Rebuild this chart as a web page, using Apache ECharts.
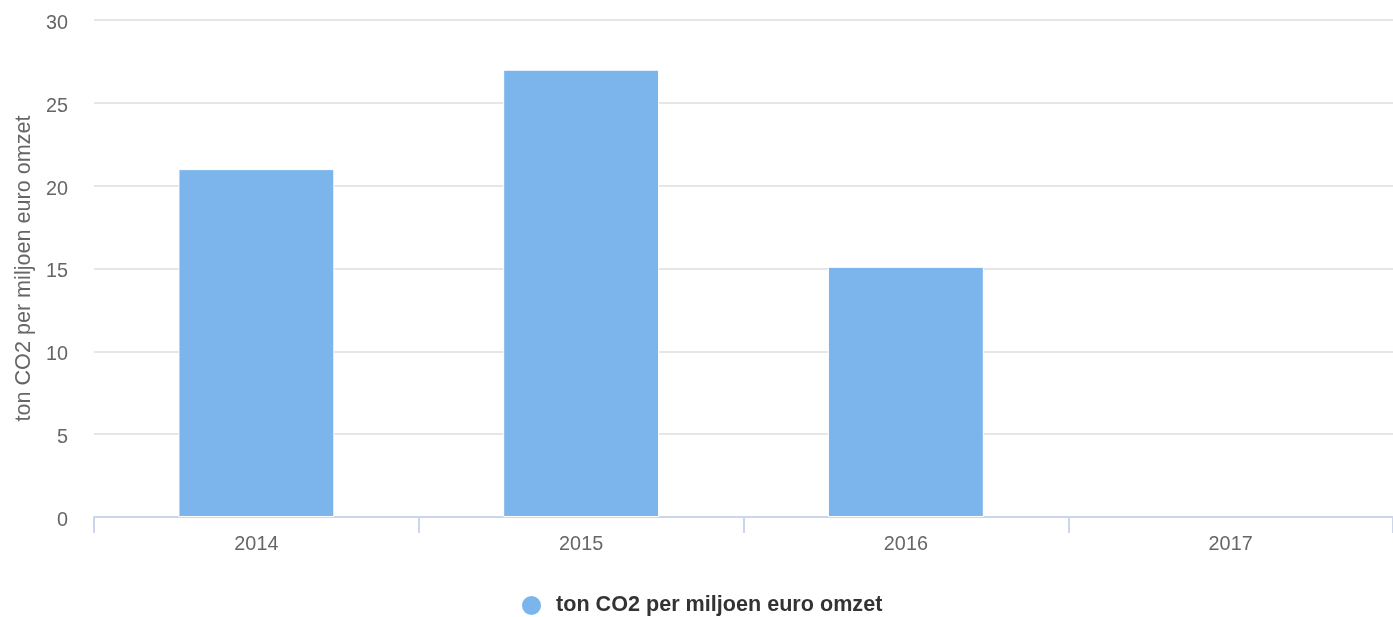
<!DOCTYPE html>
<html>
<head>
<meta charset="utf-8">
<script src="https://cdn.jsdelivr.net/npm/echarts@6/dist/echarts.min.js"></script>
<style>
html,body{margin:0;padding:0;background:#fff;}
#chart{width:1393px;height:617px;}
</style>
</head>
<body>
<div id="chart"></div>
<script>
var categories = ['2014', '2015', '2016', '2017'];
var values = [21.0, 27.0, 15.1, null];
var seriesName = 'ton CO2 per miljoen euro omzet';
var yAxisTitle = 'ton CO2 per miljoen euro omzet';
var yTicks = { min: 0, max: 30, interval: 5 };

var FONT = "'Liberation Sans', Arial, Helvetica, sans-serif";
var chart = echarts.init(document.getElementById('chart'), null, { renderer: 'canvas' });
chart.setOption({
  animation: false,
  backgroundColor: '#ffffff',
  textStyle: { fontFamily: FONT },
  grid: { left: 94, right: 0, top: 20, bottom: 100, containLabel: false },
  legend: {
    data: [{ name: seriesName, icon: 'circle' }],
    left: 520,
    top: 594,
    padding: 0,
    itemWidth: 21,
    itemHeight: 21,
    textStyle: { color: '#333333', fontSize: 21.6, fontWeight: 'bold', fontFamily: FONT, padding: [0, 0, 0, 9] }
  },
  xAxis: {
    type: 'category',
    data: categories,
    boundaryGap: true,
    axisLine: { show: true, lineStyle: { color: '#ccd6eb', width: 2 } },
    axisTick: { show: true, alignWithLabel: false, length: 16, lineStyle: { color: '#ccd6eb', width: 2 } },
    axisLabel: { color: '#666666', fontSize: 19.8, fontFamily: FONT, margin: 18 },
    splitLine: { show: false }
  },
  yAxis: {
    type: 'value',
    min: yTicks.min,
    max: yTicks.max,
    interval: yTicks.interval,
    name: yAxisTitle,
    nameLocation: 'middle',
    nameRotate: 90,
    nameGap: 59,
    nameTextStyle: { color: '#666666', fontSize: 21.6, fontFamily: FONT },
    axisLine: { show: false },
    axisTick: { show: false },
    axisLabel: {
      color: '#666666', fontSize: 19.8, fontFamily: FONT, margin: 26,
      formatter: '{v|{value}}',
      rich: { v: { color: '#666666', fontSize: 19.8, fontFamily: FONT, padding: [7, 0, 0, 0] } }
    },
    splitLine: { show: true, lineStyle: { color: '#e6e6e6', width: 2 } }
  },
  series: [{
    name: seriesName,
    type: 'bar',
    data: values,
    barWidth: '48%',
    itemStyle: { color: '#7cb5ec', borderColor: '#ffffff', borderWidth: 1 },
    emphasis: { disabled: true }
  }]
});
</script>
</body>
</html>
